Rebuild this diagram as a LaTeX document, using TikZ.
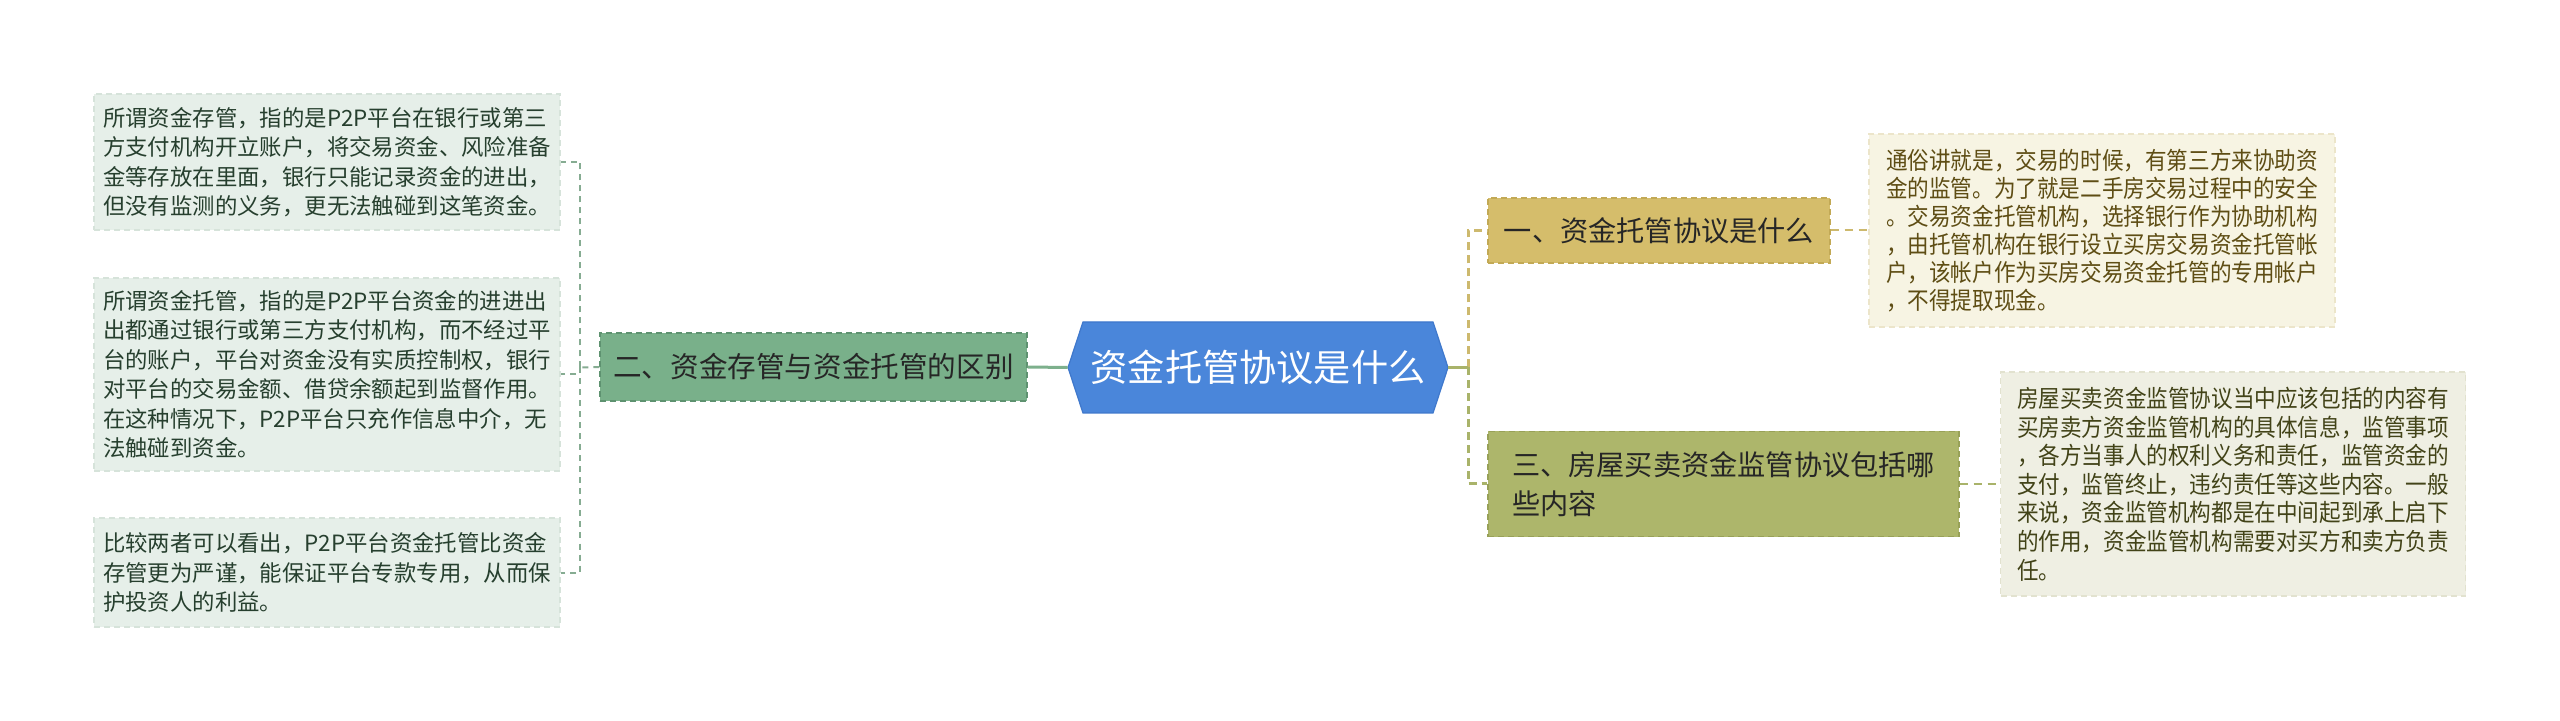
\documentclass[tikz,border=0pt]{standalone}
\usepackage{fontspec}
\setmainfont{Noto Sans CJK SC}
\newfontfamily\cjkn[FakeStretch=0.9]{Noto Sans CJK SC}
\usetikzlibrary{calc}
\definecolor{hexfill}{HTML}{4A86DA}
\definecolor{hexline}{HTML}{3F78CC}
\definecolor{gnode}{HTML}{79B08A}
\definecolor{gnodeb}{HTML}{5E9270}
\definecolor{gleaf}{HTML}{E6EFE9}
\definecolor{gleafb}{HTML}{D6E3DA}
\definecolor{gleaft}{HTML}{263F2E}
\definecolor{gline}{HTML}{86AC92}
\definecolor{gsolid}{HTML}{7DB08C}
\definecolor{ynode}{HTML}{D5BD6B}
\definecolor{ynodeb}{HTML}{C2A955}
\definecolor{yleaf}{HTML}{F7F4E3}
\definecolor{yleafb}{HTML}{ECE5CA}
\definecolor{yleaft}{HTML}{5E4D14}
\definecolor{yline}{HTML}{CDB96E}
\definecolor{onode}{HTML}{ADB66B}
\definecolor{onodeb}{HTML}{98A158}
\definecolor{oleaf}{HTML}{EFEFE3}
\definecolor{oleafb}{HTML}{E2E2CF}
\definecolor{oleaft}{HTML}{424318}
\definecolor{oline}{HTML}{A9B36A}
\begin{document}
\begin{tikzpicture}[x=0.5pt,y=-0.5pt,
  boxbase/.style={inner sep=0pt, align=left, dashed, dash pattern=on 3pt off 2pt, line width=0.7pt},
  leafg/.style={boxbase, fill=gleaf, draw=gleafb, text=gleaft, font=\fontsize{11.2pt}{14.75pt}\selectfont},
  leafy/.style={boxbase, fill=yleaf, draw=yleafb, text=yleaft, font=\cjkn\fontsize{12pt}{14pt}\selectfont},
  leafo/.style={boxbase, fill=oleaf, draw=oleafb, text=oleaft, font=\cjkn\fontsize{12pt}{14.3pt}\selectfont},
  topg/.style={boxbase, fill=gnode, draw=gnodeb, text=black!85, font=\fontsize{14.3pt}{19.5pt}\selectfont},
  topy/.style={boxbase, fill=ynode, draw=ynodeb, text=black!85, font=\fontsize{14.1pt}{19.5pt}\selectfont},
  topo/.style={boxbase, fill=onode, draw=onodeb, text=black!85, font=\fontsize{14.1pt}{19.5pt}\selectfont},
  gdash/.style={draw=gline, line width=1pt, dash pattern=on 3pt off 2.5pt},
  ydash/.style={draw=yline, line width=1.5pt, dash pattern=on 4pt off 2.5pt},
  odash/.style={draw=oline, line width=1.5pt, dash pattern=on 4pt off 2.5pt},
  ythin/.style={draw=yline, line width=1pt, dash pattern=on 4pt off 3pt},
  othin/.style={draw=oline, line width=1pt, dash pattern=on 4pt off 3pt}
]
\useasboundingbox (0,0) rectangle (2560,721);
\fill[white] (0,0) rectangle (2560,721);

% central hexagon
\filldraw[fill=hexfill, draw=hexline, line width=0.6pt]
  (1068,367.5) -- (1083,322) -- (1433,322) -- (1448,367.5) -- (1433,413) -- (1083,413) -- cycle;
\node[inner sep=0pt, minimum width=190pt, minimum height=45.5pt, text=white,
  font=\fontsize{18.6pt}{22pt}\selectfont] (C) at (1258,367.5) {资金托管协议是什么};

% left branch
\node[topg, minimum width=213.5pt, minimum height=34pt] (L) at (813.5,367) {二、资金存管与资金托管的区别};
\node[leafg, minimum width=233pt, minimum height=68pt] (LL1) at (327,162)
  {所谓资金存管，指的是P2P平台在银行或第三\\方支付机构开立账户，将交易资金、风险准备\\金等存放在里面，银行只能记录资金的进出，\\但没有监测的义务，更无法触碰到这笔资金。};
\node[leafg, minimum width=233pt, minimum height=96.5pt] (LL2) at (327,374.5)
  {所谓资金托管，指的是P2P平台资金的进进出\\出都通过银行或第三方支付机构，而不经过平\\台的账户，平台对资金没有实质控制权，银行\\对平台的交易金额、借贷余额起到监督作用。\\在这种情况下，P2P平台只充作信息中介，无\\法触碰到资金。};
\node[leafg, minimum width=233pt, minimum height=54.5pt] (LL3) at (327,572.5)
  {比较两者可以看出，P2P平台资金托管比资金\\存管更为严谨，能保证平台专款专用，从而保\\护投资人的利益。};

% right branch
\node[topy, minimum width=171pt, minimum height=32.5pt] (R1) at (1659,230.5) {一、资金托管协议是什么};
\node[leafy, minimum width=233pt, minimum height=96.5pt] (RL1) at (2102,230.5)
  {通俗讲就是，交易的时候，有第三方来协助资\\金的监管。为了就是二手房交易过程中的安全\\。交易资金托管机构，选择银行作为协助机构\\，由托管机构在银行设立买房交易资金托管帐\\户，该帐户作为买房交易资金托管的专用帐户\\，不得提取现金。};
\node[topo, minimum width=235.5pt, minimum height=52.5pt] (R3) at (1723.5,484) {三、房屋买卖资金监管协议包括哪\\些内容};
\node[leafo, minimum width=232.5pt, minimum height=112pt] (RL3) at (2233,484)
  {房屋买卖资金监管协议当中应该包括的内容有\\买房卖方资金监管机构的具体信息，监管事项\\，各方当事人的权利义务和责任，监管资金的\\支付，监管终止，违约责任等这些内容。一般\\来说，资金监管机构都是在中间起到承上启下\\的作用，资金监管机构需要对买方和卖方负责\\任。};

% connectors left
\coordinate (jl) at (580,367.5);
\draw[draw=gsolid, line width=1.5pt] (C.west) -- (L.east);
\draw[gdash] (L.west) -- (jl);
\draw[gdash] (jl) |- (LL1.east);
\draw[gdash] (jl) |- (LL2.east);
\draw[gdash] (jl) |- (LL3.east);

% connectors right
\coordinate (jr) at (1468,367.5);
\draw[ydash] (jr) |- (R1.west);
\draw[odash] (jr) |- (R3.west);
\draw[draw=oline, line width=1.5pt] (C.east) -- (jr);
\draw[ythin] (R1.east) -- (RL1.west);
\draw[othin] (R3.east) -- (RL3.west);
\end{tikzpicture}
\end{document}
